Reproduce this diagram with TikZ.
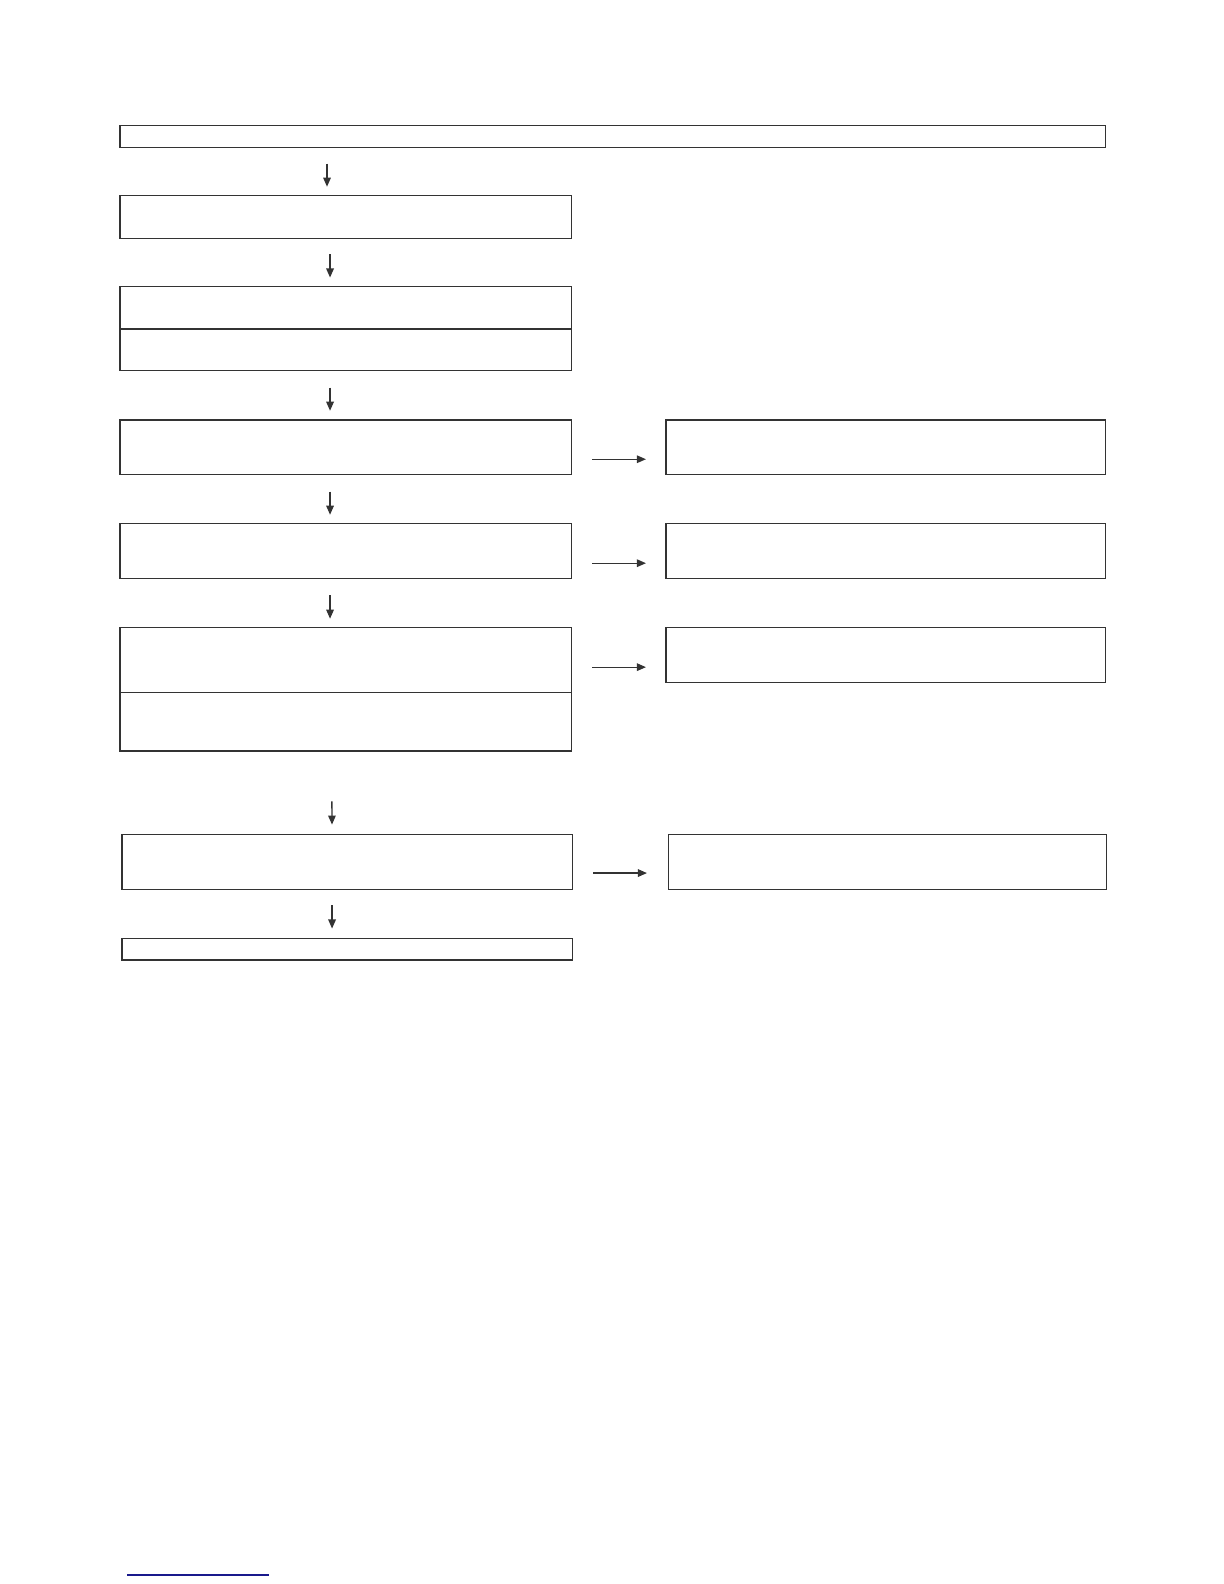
\documentclass[tikz,border=0pt]{standalone}
\usepackage{tikz}
\usetikzlibrary{arrows.meta,positioning}

\begin{document}
\begin{tikzpicture}[x=1pt,y=-1pt]
\tikzstyle{every node}+=[inner sep=0pt, outer sep=0pt]
\tikzstyle{box}=[draw=black!80, line width=1.3pt, rectangle, anchor=north west, minimum width=447, minimum height=54]
\tikzstyle{flow}=[draw=black!80, line width=1.3pt, -{Triangle[length=9pt,width=7.5pt]}]
\useasboundingbox (0,0) rectangle (1212.7,1569.4);
\node [box, minimum width=976, minimum height=22] (top) at (119,124) {};
\node [box, minimum height=42] (b1) at (119,194) {};
\node [box, minimum height=42] (b2a) at (119,284) {};
\node [box, minimum height=41] (b2b) at (119,326) {};
\node [box] (b3) at (119,416) {};
\node [box] (b4) at (119,519) {};
\node [box, minimum height=64] (b5a) at (119,622) {};
\node [box, minimum height=58] (b5b) at (119,686) {};
\node [box, minimum width=446] (b6) at (121,827) {};
\node [box, minimum width=446, minimum height=21] (b7) at (121,930) {};
\node [box, minimum width=435] (r1) at (660,416) {};
\node [box, minimum width=435] (r2) at (660,519) {};
\node [box, minimum width=435] (r3) at (660,622) {};
\node [box, minimum width=434] (r4) at (662,827) {};
\draw [flow, shorten <=16pt, shorten >=9pt] ([xshift=-18.5]b1.north |- top.south) -- ([xshift=-18.5]b1.north);
\draw [flow, shorten <=16pt, shorten >=9pt] ([xshift=-15.5]b1.south) -- ([xshift=-15.5]b2a.north);
\draw [flow, shorten <=17pt, shorten >=9pt] ([xshift=-15.5]b2b.south) -- ([xshift=-15.5]b3.north);
\draw [flow, shorten <=17pt, shorten >=9pt] ([xshift=-15.5]b3.south) -- ([xshift=-15.5]b4.north);
\draw [flow, shorten <=17pt, shorten >=9pt] ([xshift=-15.5]b4.south) -- ([xshift=-15.5]b5a.north);
\draw [flow, shorten <=50pt, shorten >=10pt] ([xshift=-14]b5b.south) -- ([xshift=-15]b6.north);
\draw [flow, shorten <=16pt, shorten >=10pt] ([xshift=-15]b6.south) -- ([xshift=-15]b7.north);
\draw [flow, shorten <=21pt, shorten >=20pt] ([yshift=-12]b3.east) -- ([yshift=-12]r1.west);
\draw [flow, shorten <=21pt, shorten >=20pt] ([yshift=-12]b4.east) -- ([yshift=-12]r2.west);
\draw [flow, shorten <=21pt, shorten >=20pt] ([yshift=-7]b5a.east) -- ([yshift=-12]r3.west);
\draw [flow, shorten <=21pt, shorten >=21pt] ([yshift=-11]b6.east) -- ([yshift=-11]r4.west);
\draw [draw={rgb,255:red,25;green,25;blue,140}, line width=1.3pt] (126,1560.5) -- (266.5,1560.5);
\end{tikzpicture}
\end{document}
